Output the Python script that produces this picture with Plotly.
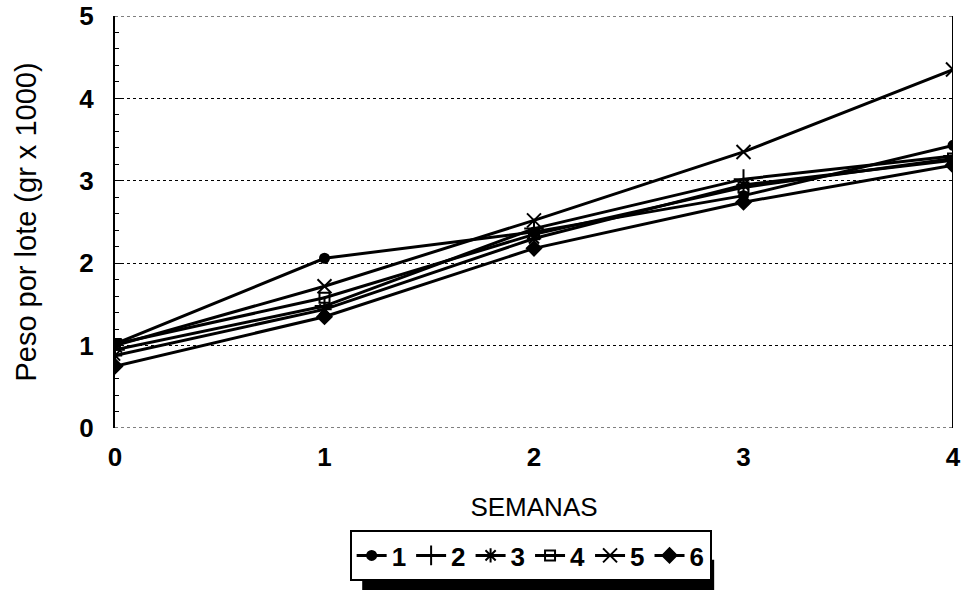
import plotly.graph_objects as go

semanas = [0, 1, 2, 3, 4]
series_names = ["1", "2", "3", "4", "5", "6"]
s1 = [1.02, 2.06, 2.38, 2.82, 3.43]
s2 = [0.95, 1.48, 2.42, 3.02, 3.30]
s3 = [0.88, 1.44, 2.30, 2.95, 3.25]
s4 = [1.02, 1.58, 2.35, 2.92, 3.27]
s5 = [1.00, 1.72, 2.52, 3.35, 4.35]
s6 = [0.75, 1.35, 2.18, 2.74, 3.19]
values = [s1, s2, s3, s4, s5, s6]
symbols = ["circle", "cross-thin-open", "asterisk-open", "square-open", "x-thin-open", "diamond"]
sizes = [9, 14, 12, 10, 14, 11]

FONT = "Liberation Sans"
fig = go.Figure()
for name, vals, sym, sz in zip(series_names, values, symbols, sizes):
    fig.add_trace(go.Scatter(
        x=semanas, y=vals, name=name, mode="lines+markers",
        line=dict(color="black", width=3),
        marker=dict(symbol=sym, size=sz, color="black",
                    line=dict(color="black", width=2)),
    ))

fig.update_layout(
    width=961, height=590,
    margin=dict(l=115, r=8, t=16, b=162),
    paper_bgcolor="white", plot_bgcolor="white",
    font=dict(family=FONT, color="black", size=20),
    showlegend=True,
    legend=dict(orientation="h", x=0.496, xanchor="center", y=0.1017, yanchor="top",
                xref="paper", yref="container",
                bgcolor="white", bordercolor="black", borderwidth=2,
                font=dict(size=26, family=FONT, color="black", weight="bold"),
                itemwidth=30, tracegroupgap=0),
    xaxis=dict(range=[0, 4], tickvals=semanas, ticktext=[str(s) for s in semanas],
               showgrid=False, zeroline=False, showline=False, automargin=False,
               ticks="", ticklabelstandoff=11, ticklabeloverflow="allow",
               tickfont=dict(size=26, family=FONT, weight="bold"),
               title=dict(text="SEMANAS", font=dict(size=26, family=FONT), standoff=26)),
    yaxis=dict(range=[0, 5], tickvals=[0, 1, 2, 3, 4, 5], automargin=False,
               showgrid=True, gridcolor="black", griddash="dot", gridwidth=1,
               zeroline=False, showline=True, linecolor="black", linewidth=2,
               ticks="inside", ticklen=6, tickcolor="black",
               minor=dict(dtick=0.2, ticks="inside", ticklen=4, tickcolor="black", showgrid=False),
               ticklabelstandoff=14,
               tickfont=dict(size=26, family=FONT, weight="bold"),
               title=dict(text="Peso por lote (gr x 1000)", font=dict(size=29, family=FONT), standoff=34)),
)
# bottom dotted axis, top dotted border and right solid border
fig.add_shape(type="line", xref="paper", yref="y", x0=0, x1=1, y0=0, y1=0,
              line=dict(color="black", width=1, dash="dot"))
fig.add_shape(type="line", xref="paper", yref="y", x0=0, x1=1, y0=5, y1=5,
              line=dict(color="black", width=1, dash="dot"))
fig.add_shape(type="line", xref="x", yref="paper", x0=4, x1=4, y0=0, y1=1,
              line=dict(color="black", width=2))
# legend shadow
fig.add_shape(type="rect", xref="paper", yref="paper", x0=0.295, x1=0.715, y0=-0.393, y1=-0.32,
              fillcolor="black", line=dict(width=0), layer="above")

fig.write_html("out.html")
